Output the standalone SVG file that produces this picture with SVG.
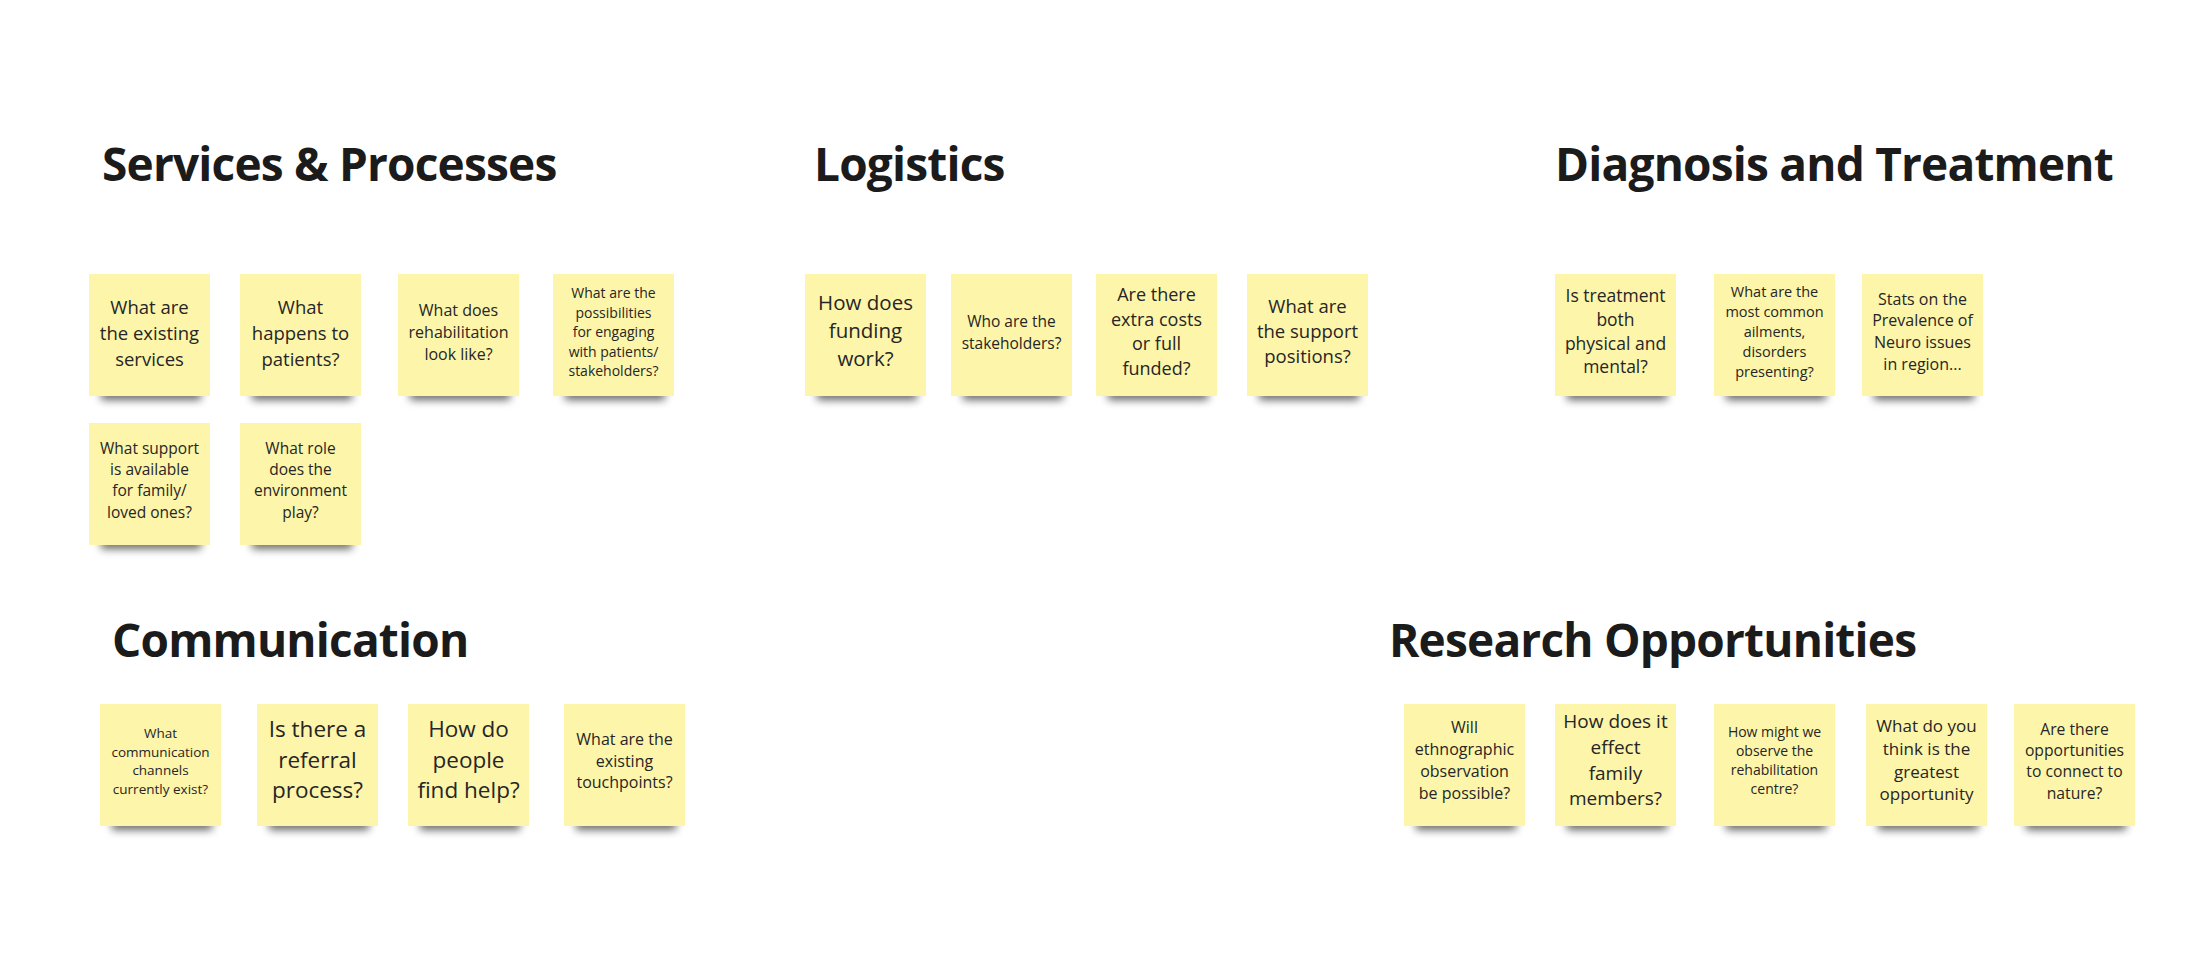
<svg xmlns="http://www.w3.org/2000/svg" width="2189" height="957" viewBox="0 0 2189 957">
<defs>
<style>
.bg{fill:#ffffff}
.title{font-family:"Open Sans","Liberation Sans",sans-serif;font-weight:700;font-size:46px;letter-spacing:-0.8px;fill:#1b1b1b}
.note{fill:#fdf5a9}
.sh{fill:#000;opacity:0.6;filter:url(#blur)}
.t{font-family:"Open Sans","Liberation Sans",sans-serif;font-weight:400;fill:#262626;text-anchor:middle}
</style>
<filter id="blur" x="-20%" y="-100%" width="140%" height="300%"><feGaussianBlur stdDeviation="4"/></filter>
</defs>
<rect class="bg" x="0" y="0" width="2189" height="957"/>

<g id="titles">
<text id="title-services" class="title" x="102" y="181">Services &amp; Processes</text>
<text id="title-logistics" class="title" x="814" y="181">Logistics</text>
<text id="title-diagnosis" class="title" x="1555" y="181">Diagnosis and Treatment</text>
<text id="title-communication" class="title" x="112" y="657">Communication</text>
<text id="title-research" class="title" x="1389" y="657">Research Opportunities</text>
</g>

<g id="connectors"></g>

<!-- Services & Processes -->
<g id="s1"><rect class="sh" x="101" y="389" width="100" height="11"/><rect class="note" x="89" y="274" width="121" height="122"/>
<text class="t" x="149.5" y="314" font-size="18.5"><tspan x="149.5">What are</tspan><tspan x="149.5" dy="26">the existing</tspan><tspan x="149.5" dy="26">services</tspan></text></g>
<g id="s2"><rect class="sh" x="252" y="389" width="100" height="11"/><rect class="note" x="240" y="274" width="121" height="122"/>
<text class="t" x="300.5" y="314" font-size="18.5"><tspan x="300.5">What</tspan><tspan x="300.5" dy="26">happens to</tspan><tspan x="300.5" dy="26">patients?</tspan></text></g>
<g id="s3"><rect class="sh" x="410" y="389" width="100" height="11"/><rect class="note" x="398" y="274" width="121" height="122"/>
<text class="t" x="458.5" y="316" font-size="16"><tspan x="458.5">What does</tspan><tspan x="458.5" dy="22">rehabilitation</tspan><tspan x="458.5" dy="22">look like?</tspan></text></g>
<g id="s4"><rect class="sh" x="565" y="389" width="100" height="11"/><rect class="note" x="553" y="274" width="121" height="122"/>
<text class="t" x="613.5" y="298" font-size="14"><tspan x="613.5">What are the</tspan><tspan x="613.5" dy="19.5">possibilities</tspan><tspan x="613.5" dy="19.5">for engaging</tspan><tspan x="613.5" dy="19.5">with patients/</tspan><tspan x="613.5" dy="19.5">stakeholders?</tspan></text></g>
<g id="s5"><rect class="sh" x="101" y="538" width="100" height="11"/><rect class="note" x="89" y="423" width="121" height="122"/>
<text class="t" x="149.5" y="453.5" font-size="15.5"><tspan x="149.5">What support</tspan><tspan x="149.5" dy="21.4">is available</tspan><tspan x="149.5" dy="21.4">for family/</tspan><tspan x="149.5" dy="21.4">loved ones?</tspan></text></g>
<g id="s6"><rect class="sh" x="252" y="538" width="100" height="11"/><rect class="note" x="240" y="423" width="121" height="122"/>
<text class="t" x="300.5" y="453.5" font-size="15.5"><tspan x="300.5">What role</tspan><tspan x="300.5" dy="21.4">does the</tspan><tspan x="300.5" dy="21.4">environment</tspan><tspan x="300.5" dy="21.4">play?</tspan></text></g>

<!-- Logistics -->
<g id="l1"><rect class="sh" x="817" y="389" width="100" height="11"/><rect class="note" x="805" y="274" width="121" height="122"/>
<text class="t" x="865.5" y="310.4" font-size="20.5"><tspan x="865.5">How does</tspan><tspan x="865.5" dy="28">funding</tspan><tspan x="865.5" dy="28">work?</tspan></text></g>
<g id="l2"><rect class="sh" x="963" y="389" width="100" height="11"/><rect class="note" x="951" y="274" width="121" height="122"/>
<text class="t" x="1011.5" y="326.6" font-size="15.5"><tspan x="1011.5">Who are the</tspan><tspan x="1011.5" dy="22">stakeholders?</tspan></text></g>
<g id="l3"><rect class="sh" x="1108" y="389" width="100" height="11"/><rect class="note" x="1096" y="274" width="121" height="122"/>
<text class="t" x="1156.5" y="301" font-size="18"><tspan x="1156.5">Are there</tspan><tspan x="1156.5" dy="24.7">extra costs</tspan><tspan x="1156.5" dy="24.7">or full</tspan><tspan x="1156.5" dy="24.7">funded?</tspan></text></g>
<g id="l4"><rect class="sh" x="1259" y="389" width="100" height="11"/><rect class="note" x="1247" y="274" width="121" height="122"/>
<text class="t" x="1307.5" y="312.7" font-size="18.5"><tspan x="1307.5">What are</tspan><tspan x="1307.5" dy="25">the support</tspan><tspan x="1307.5" dy="25">positions?</tspan></text></g>

<!-- Diagnosis and Treatment -->
<g id="d1"><rect class="sh" x="1567" y="389" width="100" height="11"/><rect class="note" x="1555" y="274" width="121" height="122"/>
<text class="t" x="1615.5" y="302.3" font-size="17.5"><tspan x="1615.5">Is treatment</tspan><tspan x="1615.5" dy="23.7">both</tspan><tspan x="1615.5" dy="23.7">physical and</tspan><tspan x="1615.5" dy="23.7">mental?</tspan></text></g>
<g id="d2"><rect class="sh" x="1726" y="389" width="100" height="11"/><rect class="note" x="1714" y="274" width="121" height="122"/>
<text class="t" x="1774.5" y="296.9" font-size="14.5"><tspan x="1774.5">What are the</tspan><tspan x="1774.5" dy="19.9">most common</tspan><tspan x="1774.5" dy="19.9">ailments,</tspan><tspan x="1774.5" dy="19.9">disorders</tspan><tspan x="1774.5" dy="19.9">presenting?</tspan></text></g>
<g id="d3"><rect class="sh" x="1874" y="389" width="100" height="11"/><rect class="note" x="1862" y="274" width="121" height="122"/>
<text class="t" x="1922.5" y="304.5" font-size="16"><tspan x="1922.5">Stats on the</tspan><tspan x="1922.5" dy="21.9">Prevalence of</tspan><tspan x="1922.5" dy="21.9">Neuro issues</tspan><tspan x="1922.5" dy="21.9">in region...</tspan></text></g>

<!-- Communication -->
<g id="c1"><rect class="sh" x="112" y="819" width="100" height="11"/><rect class="note" x="100" y="704" width="121" height="122"/>
<text class="t" x="160.5" y="738" font-size="13.5"><tspan x="160.5">What</tspan><tspan x="160.5" dy="18.6">communication</tspan><tspan x="160.5" dy="18.6">channels</tspan><tspan x="160.5" dy="18.6">currently exist?</tspan></text></g>
<g id="c2"><rect class="sh" x="269" y="819" width="100" height="11"/><rect class="note" x="257" y="704" width="121" height="122"/>
<text class="t" x="317.5" y="737" font-size="22.5"><tspan x="317.5">Is there a</tspan><tspan x="317.5" dy="30.7">referral</tspan><tspan x="317.5" dy="30.7">process?</tspan></text></g>
<g id="c3"><rect class="sh" x="420" y="819" width="100" height="11"/><rect class="note" x="408" y="704" width="121" height="122"/>
<text class="t" x="468.5" y="737" font-size="22.5"><tspan x="468.5">How do</tspan><tspan x="468.5" dy="30.7">people</tspan><tspan x="468.5" dy="30.7">find help?</tspan></text></g>
<g id="c4"><rect class="sh" x="576" y="819" width="100" height="11"/><rect class="note" x="564" y="704" width="121" height="122"/>
<text class="t" x="624.5" y="745" font-size="16"><tspan x="624.5">What are the</tspan><tspan x="624.5" dy="21.6">existing</tspan><tspan x="624.5" dy="21.6">touchpoints?</tspan></text></g>

<!-- Research Opportunities -->
<g id="r1"><rect class="sh" x="1416" y="819" width="100" height="11"/><rect class="note" x="1404" y="704" width="121" height="122"/>
<text class="t" x="1464.5" y="733" font-size="16"><tspan x="1464.5">Will</tspan><tspan x="1464.5" dy="21.9">ethnographic</tspan><tspan x="1464.5" dy="21.9">observation</tspan><tspan x="1464.5" dy="21.9">be possible?</tspan></text></g>
<g id="r2"><rect class="sh" x="1567" y="819" width="100" height="11"/><rect class="note" x="1555" y="704" width="121" height="122"/>
<text class="t" x="1615.5" y="728.4" font-size="19"><tspan x="1615.5">How does it</tspan><tspan x="1615.5" dy="25.6">effect</tspan><tspan x="1615.5" dy="25.6">family</tspan><tspan x="1615.5" dy="25.6">members?</tspan></text></g>
<g id="r3"><rect class="sh" x="1726" y="819" width="100" height="11"/><rect class="note" x="1714" y="704" width="121" height="122"/>
<text class="t" x="1774.5" y="736.5" font-size="14"><tspan x="1774.5">How might we</tspan><tspan x="1774.5" dy="19">observe the</tspan><tspan x="1774.5" dy="19">rehabilitation</tspan><tspan x="1774.5" dy="19">centre?</tspan></text></g>
<g id="r4"><rect class="sh" x="1878" y="819" width="100" height="11"/><rect class="note" x="1866" y="704" width="121" height="122"/>
<text class="t" x="1926.5" y="732" font-size="17"><tspan x="1926.5">What do you</tspan><tspan x="1926.5" dy="22.8">think is the</tspan><tspan x="1926.5" dy="22.8">greatest</tspan><tspan x="1926.5" dy="22.8">opportunity</tspan></text></g>
<g id="r5"><rect class="sh" x="2026" y="819" width="100" height="11"/><rect class="note" x="2014" y="704" width="121" height="122"/>
<text class="t" x="2074.5" y="734.6" font-size="15.7"><tspan x="2074.5">Are there</tspan><tspan x="2074.5" dy="21.4">opportunities</tspan><tspan x="2074.5" dy="21.4">to connect to</tspan><tspan x="2074.5" dy="21.4">nature?</tspan></text></g>
</svg>
